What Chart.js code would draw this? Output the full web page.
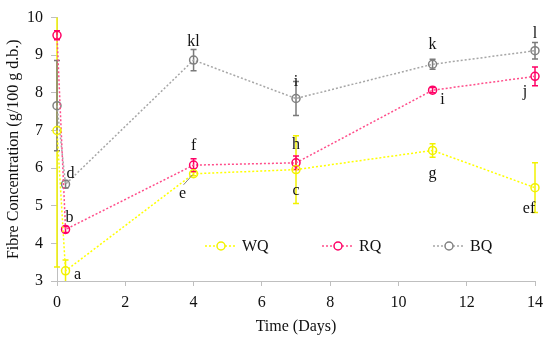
<!DOCTYPE html>
<html>
<head>
<meta charset="utf-8">
<script src="https://cdn.jsdelivr.net/npm/chart.js@4"></script>
<style>
  html, body { margin: 0; padding: 0; background: #fff; }
  #wrap { width: 550px; height: 341px; }
</style>
</head>
<body>
<div id="wrap"><canvas id="myChart" width="550" height="341"></canvas></div>
<script>
const days = [0, 0.25, 4, 7, 11, 14];

const wq = [7.0, 3.27, 5.85, 5.96, 6.47, 5.48];
const wqErr = [3.63, 0.29, 0.05, 0.9, 0.18, 0.66];
const wqLetters = ['', 'a', 'e', 'c', 'g', 'ef'];

const rq = [9.53, 4.37, 6.08, 6.14, 8.07, 8.44];
const rqErr = [0.12, 0.08, 0.17, 0.18, 0.07, 0.25];
const rqLetters = ['', 'b', 'f', 'h', 'i', 'j'];

const bq = [7.66, 5.57, 8.87, 7.85, 8.76, 9.12];
const bqErr = [1.2, 0.1, 0.28, 0.45, 0.13, 0.22];
const bqLetters = ['', 'd', 'kl', 'i', 'k', 'l'];

const seriesNames = ['WQ', 'RQ', 'BQ'];

// label offsets in px from the point (position only, not data)
const wqOff = [[0, 0], [12, 4], [-11, 20], [0, 21], [0, 23], [-6, 21]];
const rqOff = [[0, 0], [4, -12], [0, -19], [0, -18], [10, 10], [-10, 15]];
const bqOff = [[0, 0], [5, -10], [0, -18], [0, -17], [0, -19], [0, -17]];

const FONT = '"Liberation Serif", "DejaVu Serif", serif';
const FS = 16;

function pts(ys) {
    return days.map((d, i) => ({ x: d, y: ys[i] }));
}

const styles = [
    { line: '#ffff00', mark: '#f2f200', err: '#f2f200' },
    { line: '#ff4d8a', mark: '#ff0066', err: '#ff0066' },
    { line: '#a6a6a6', mark: '#808080', err: '#7a7a7a' }
];

const errs = [wqErr, rqErr, bqErr];
const letters = [wqLetters, rqLetters, bqLetters];
const offsets = [wqOff, rqOff, bqOff];

const data = {
    datasets: [wq, rq, bq].map((ys, k) => ({
        label: seriesNames[k],
        data: pts(ys),
        showLine: true,
        clip: false,
        borderColor: styles[k].line,
        borderWidth: 1.5,
        borderDash: [2, 2],
        pointRadius: 4,
        pointBorderWidth: 1.5,
        pointBorderColor: styles[k].mark,
        pointBackgroundColor: 'rgba(255,255,255,0)',
        tension: 0
    }))
};

const errorBars = {
    id: 'errorBars',
    beforeDatasetsDraw(chart) {
        const ctx = chart.ctx;
        const xs = chart.scales.x, ys = chart.scales.y;
        const area = chart.chartArea;
        ctx.save();
        ctx.beginPath();
        ctx.rect(area.left - 5, area.top, area.right - area.left + 10, area.bottom - area.top);
        ctx.clip();
        chart.data.datasets.forEach((ds, k) => {
            ctx.strokeStyle = styles[k].err;
            ctx.lineWidth = 1.5;
            ds.data.forEach((p, i) => {
                const e = errs[k][i];
                const px = xs.getPixelForValue(p.x);
                const top = ys.getPixelForValue(p.y + e);
                const bot = ys.getPixelForValue(p.y - e);
                ctx.beginPath();
                ctx.moveTo(px, top); ctx.lineTo(px, bot);
                ctx.moveTo(px - 3, top); ctx.lineTo(px + 3, top);
                ctx.moveTo(px - 3, bot); ctx.lineTo(px + 3, bot);
                ctx.stroke();
            });
        });
        ctx.restore();
    },
    afterDatasetsDraw(chart) {
        const ctx = chart.ctx;
        const xs = chart.scales.x, ys = chart.scales.y;
        ctx.save();
        // leader line for the "e" label
        const p = chart.data.datasets[0].data[2];
        const px = xs.getPixelForValue(p.x), py = ys.getPixelForValue(p.y);
        ctx.strokeStyle = '#808080';
        ctx.lineWidth = 1;
        ctx.beginPath();
        ctx.moveTo(px - 10, py + 11); ctx.lineTo(px - 1, py + 1);
        ctx.stroke();

        ctx.fillStyle = '#111';
        ctx.font = FS + 'px ' + FONT;
        ctx.textAlign = 'center';
        ctx.textBaseline = 'middle';
        chart.data.datasets.forEach((ds, k) => {
            ds.data.forEach((pt, i) => {
                const t = letters[k][i];
                if (!t) return;
                const x = xs.getPixelForValue(pt.x) + offsets[k][i][0];
                const y = ys.getPixelForValue(pt.y) + offsets[k][i][1];
                ctx.fillText(t, x, y);
            });
        });
        ctx.restore();
    },
    afterDraw(chart) {
        // legend inside the plot
        const ctx = chart.ctx;
        const starts = [205, 322, 433];
        const y = 246;
        ctx.save();
        chart.data.datasets.forEach((ds, k) => {
            const x0 = starts[k];
            ctx.strokeStyle = styles[k].line;
            ctx.lineWidth = 1.5;
            ctx.setLineDash([2, 2]);
            ctx.beginPath();
            ctx.moveTo(x0, y); ctx.lineTo(x0 + 32, y);
            ctx.stroke();
            ctx.setLineDash([]);
            ctx.strokeStyle = styles[k].mark;
            ctx.fillStyle = '#fff';
            ctx.beginPath();
            ctx.arc(x0 + 16, y, 4, 0, Math.PI * 2);
            ctx.fill();
            ctx.stroke();
            ctx.fillStyle = '#111';
            ctx.font = FS + 'px ' + FONT;
            ctx.textAlign = 'left';
            ctx.textBaseline = 'middle';
            ctx.fillText(ds.label, x0 + 37, y + 1);
        });
        ctx.restore();
    }
};

const config = {
    type: 'scatter',
    data: data,
    options: {
        responsive: false,
        animation: false,
        layout: { padding: { left: 0, right: 7, top: 12, bottom: 0 } },
        plugins: {
            legend: { display: false },
            tooltip: { enabled: false }
        },
        scales: {
            x: {
                type: 'linear',
                min: 0,
                max: 14,
                border: { color: '#bfbfbf', width: 1 },
                grid: { drawOnChartArea: false, drawTicks: true, tickLength: 5, color: '#bfbfbf' },
                ticks: { stepSize: 2, color: '#111', padding: 7, font: { family: FONT, size: FS } },
                title: { display: true, text: 'Time (Days)', color: '#111', font: { family: FONT, size: FS }, padding: { top: 4, bottom: 5 } },
                afterFit(scale) { scale.height = 60; }
            },
            y: {
                min: 3,
                max: 10,
                border: { color: '#bfbfbf', width: 1 },
                grid: { drawOnChartArea: false, drawTicks: true, tickLength: 6, color: '#bfbfbf' },
                ticks: { stepSize: 1, color: '#111', padding: 8, font: { family: FONT, size: FS } },
                title: { display: true, text: 'Fibre Concentration (g/100 g d.b.)', color: '#111', font: { family: FONT, size: FS }, padding: { top: 4, bottom: 0 } },
                afterFit(scale) { scale.width = 57; }
            }
        }
    },
    plugins: [errorBars]
};

const myChart = new Chart(document.getElementById('myChart'), config);
</script>
</body>
</html>
